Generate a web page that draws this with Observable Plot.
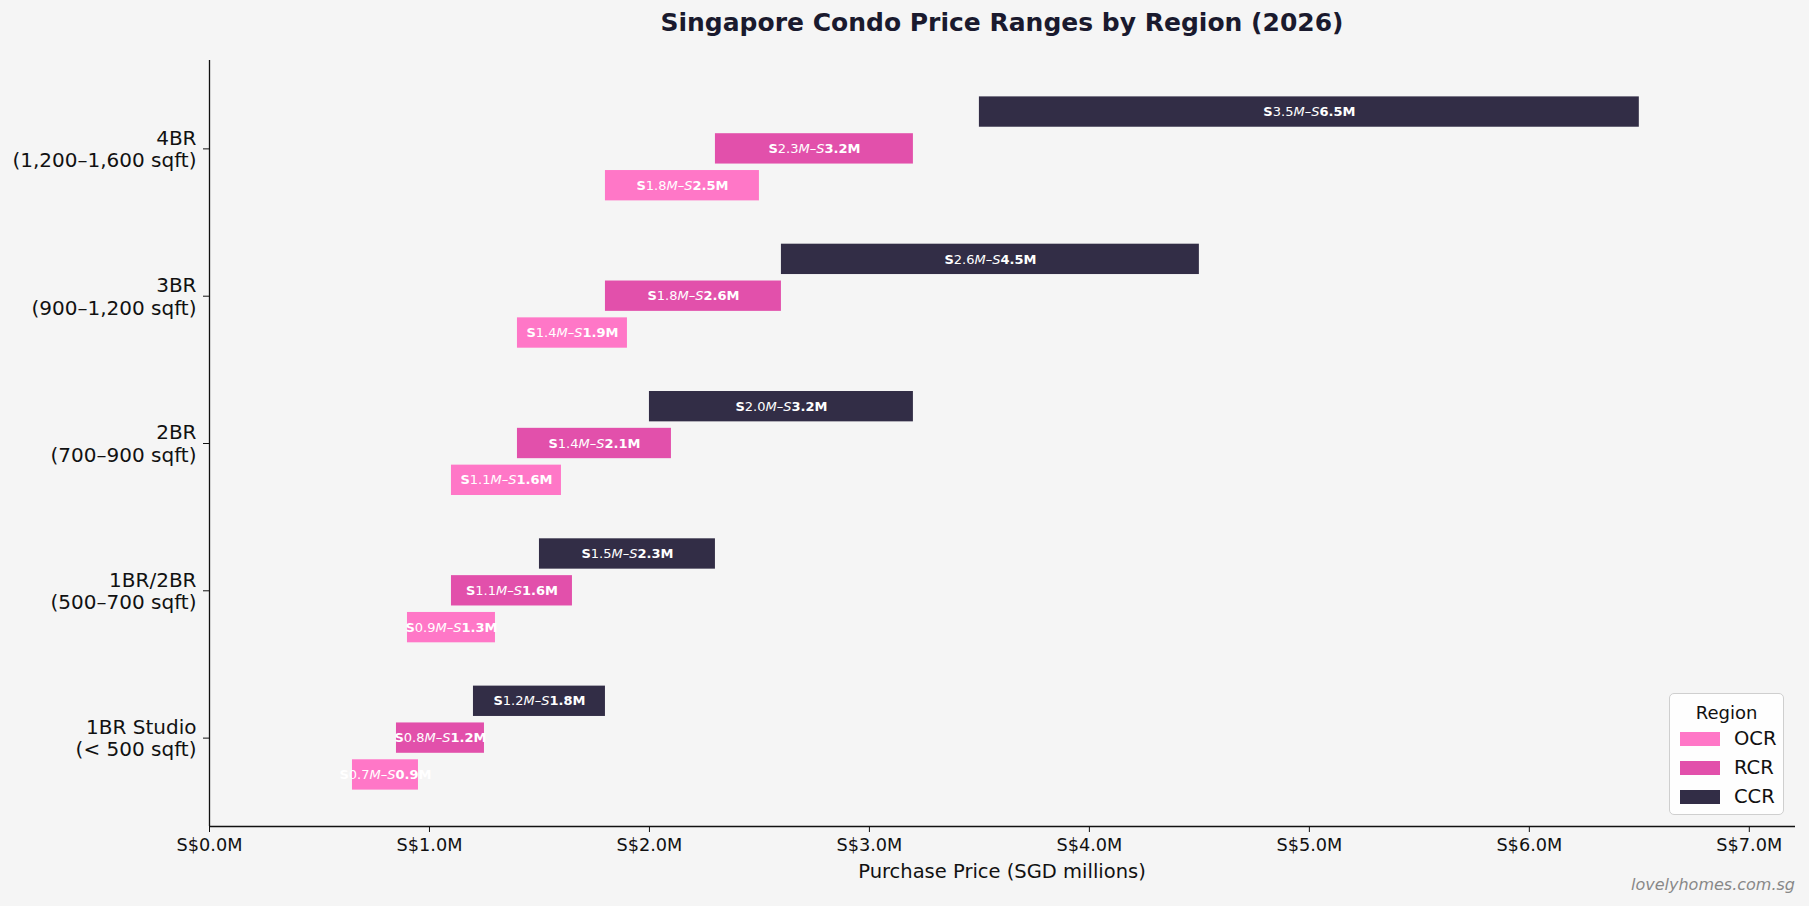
<!DOCTYPE html>
<html>
<head>
<meta charset="utf-8">
<script src="https://cdn.jsdelivr.net/npm/d3@7"></script>
<script src="https://cdn.jsdelivr.net/npm/@observablehq/plot@0.6"></script>
<style>
  body { margin: 0; background: #f5f5f5; font-family: "DejaVu Sans", sans-serif; }
  #wrap { position: relative; width: 1809px; height: 906px; overflow: hidden; background: #f5f5f5; }
  #chart { position: absolute; left: 0; top: 0; }
  #title { position: absolute; left: 209px; width: 1586px; top: 8px; line-height: 30px; text-align: center;
           font-weight: bold; font-size: 25px; color: #1a1a2e; }
  #xlabel { position: absolute; left: 209px; width: 1586px; top: 860px; line-height: 24px; text-align: center;
            font-size: 19.5px; color: #111; }
  #credit { position: absolute; right: 14px; top: 875px; line-height: 20px; font-size: 16px; font-style: italic; color: #888; }
  #legend { position: absolute; left: 1669px; top: 693px; width: 115px; height: 122px; box-sizing: border-box;
            background: rgba(255,255,255,0.85); border: 1px solid #cfcfcf; border-radius: 5px; }
  #legend .lt { position: absolute; left: 0; width: 100%; top: 8px; line-height: 22px; text-align: center; font-size: 18px; color: #111; }
  #legend .row { position: absolute; left: 0; width: 100%; height: 24px; }
  #legend .sw { position: absolute; left: 10px; top: 5px; width: 40px; height: 14px; }
  #legend .lb { position: absolute; left: 64px; top: 0; line-height: 24px; font-size: 19.5px; color: #111; }
</style>
</head>
<body>
<div id="wrap">
  <div id="chart"></div>
  <div id="title">Singapore Condo Price Ranges by Region (2026)</div>
  <div id="xlabel">Purchase Price (SGD millions)</div>
  <div id="credit">lovelyhomes.com.sg</div>
  <div id="legend"></div>
</div>
<script>
// Unit sizes, bottom to top
const sizes = [
  "1BR Studio\n(< 500 sqft)",
  "1BR/2BR\n(500–700 sqft)",
  "2BR\n(700–900 sqft)",
  "3BR\n(900–1,200 sqft)",
  "4BR\n(1,200–1,600 sqft)"
];
const regions = ["OCR", "RCR", "CCR"];
const regionColors = ["#ff77c7", "#e250ab", "#322d46"];

// Price ranges (SGD millions) per region, in the order of `sizes`
const ocrLow  = [0.65, 0.9, 1.1, 1.4, 1.8];
const ocrHigh = [0.95, 1.3, 1.6, 1.9, 2.5];
const rcrLow  = [0.85, 1.1, 1.4, 1.8, 2.3];
const rcrHigh = [1.25, 1.65, 2.1, 2.6, 3.2];
const ccrLow  = [1.2, 1.5, 2.0, 2.6, 3.5];
const ccrHigh = [1.8, 2.3, 3.2, 4.5, 6.5];

const xTicks = [0, 1, 2, 3, 4, 5, 6, 7];

// One-decimal formatting with round-half-even on the exact binary value
function fmt1(v) {
  const s = v.toFixed(20);
  const [ip, fp] = s.split(".");
  let tenths = parseInt(ip, 10) * 10 + parseInt(fp[0], 10);
  const rest = fp.slice(1).replace(/0+$/, "");
  if (rest[0] > "5" || (rest[0] === "5" && rest.length > 1)) tenths++;
  else if (rest === "5" && tenths % 2 === 1) tenths++;
  return (tenths / 10).toFixed(1);
}

const lows = [ocrLow, rcrLow, ccrLow];
const highs = [ocrHigh, rcrHigh, ccrHigh];
const offsets = [-0.25, 0, 0.25];
const half = 0.103;

const rows = [];
regions.forEach((r, k) => {
  sizes.forEach((s, i) => {
    const lo = lows[k][i], hi = highs[k][i];
    rows.push({
      region: r, size: s, lo, hi, pos: i + offsets[k],
      label: `S${fmt1(lo)}M–S${fmt1(hi)}M`
    });
  });
});

const plot = Plot.plot({
  width: 1809,
  height: 906,
  marginLeft: 209,
  marginRight: 14,
  marginTop: 60,
  marginBottom: 80,
  style: { fontFamily: "DejaVu Sans", background: "transparent", color: "#111" },
  x: { domain: [0, 7.21] },
  y: { domain: [-0.6, 4.6] },
  color: { domain: regions, range: regionColors },
  marks: [
    Plot.rect(rows, {
      x1: "lo", x2: "hi",
      y1: d => d.pos - half, y2: d => d.pos + half,
      fill: "region"
    }),
    Plot.text(rows, {
      x: d => (d.lo + d.hi) / 2, y: "pos", text: "label",
      fill: "white", fontSize: 13
    }),
    Plot.ruleX([0], { stroke: "#111", strokeWidth: 1.3 }),
    Plot.ruleY([-0.6], { stroke: "#111", strokeWidth: 1.3 }),
    Plot.axisY({
      ticks: [0, 1, 2, 3, 4], tickFormat: i => sizes[i],
      fontSize: 20, tickSize: 6, tickPadding: 7, label: null, lineHeight: 1.12
    }),
    Plot.axisX({
      ticks: xTicks, tickFormat: d => `S$${d.toFixed(1)}M`,
      fontSize: 17.7, tickSize: 6, tickPadding: 6, label: null
    })
  ]
});
document.getElementById("chart").appendChild(plot);

// Mixed-style bar labels: bold "S", plain low value, italic "M–S", bold high value
d3.select(plot).selectAll('g[aria-label="text"] text').each(function () {
  const t = d3.select(this);
  const m = /^S([\d.]+)M–S([\d.]+)M$/.exec(t.text());
  if (!m) return;
  t.text(null);
  t.append("tspan").attr("font-weight", "bold").text("S");
  t.append("tspan").text(m[1]);
  t.append("tspan").attr("font-style", "italic").text("M–S");
  t.append("tspan").attr("font-weight", "bold").text(m[2] + "M");
});

// Legend
const legend = d3.select("#legend");
legend.append("div").attr("class", "lt").text("Region");
regions.forEach((r, k) => {
  const row = legend.append("div").attr("class", "row").style("top", `${33 + k * 29}px`);
  row.append("div").attr("class", "sw").style("background", regionColors[k]);
  row.append("div").attr("class", "lb").text(r);
});
</script>
</body>
</html>
